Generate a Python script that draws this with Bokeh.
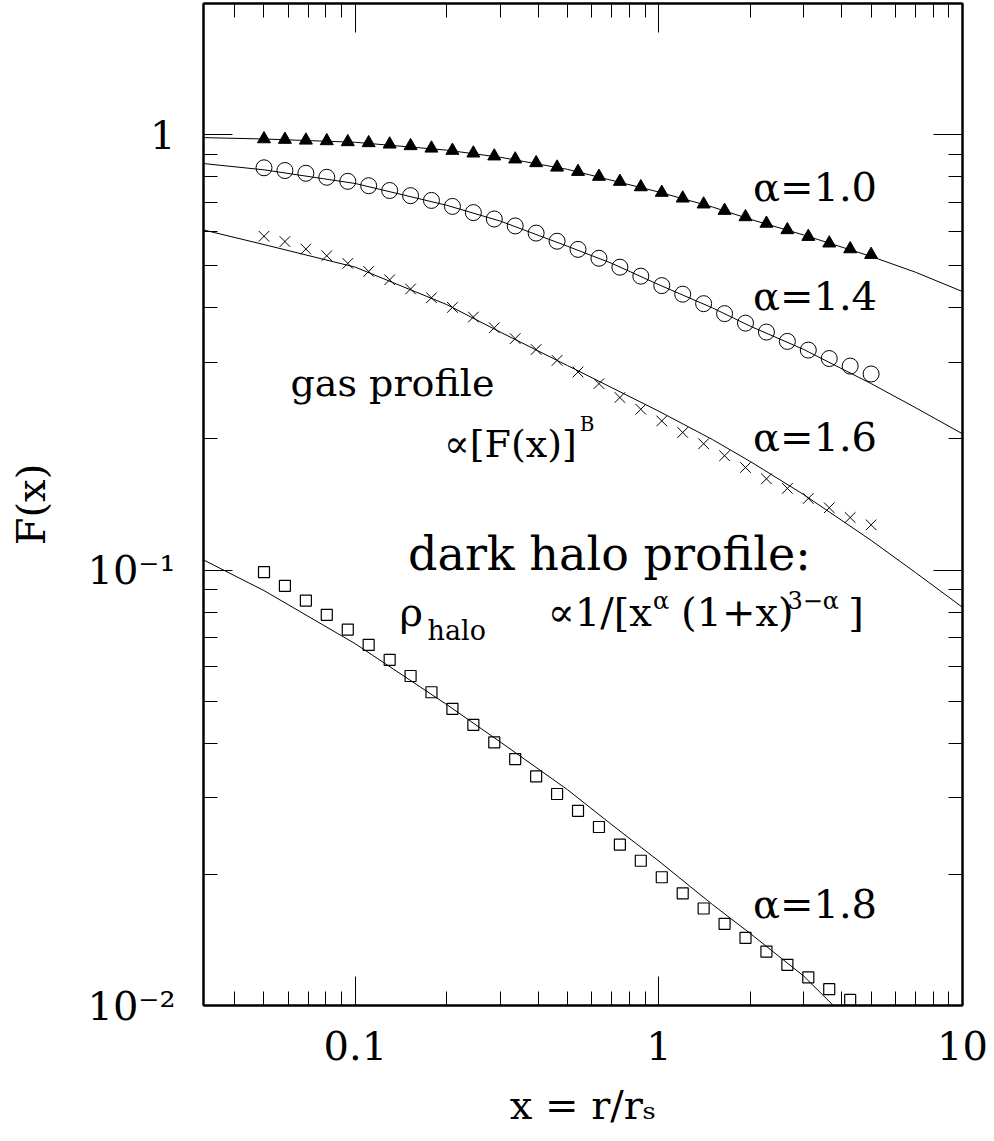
from bokeh.plotting import figure
from bokeh.models import Range1d, FixedTicker, LogAxis
from bokeh.core.properties import value
from bokeh.embed import file_html
from bokeh.resources import INLINE

FONT = "DejaVu Serif"

# ---- data ----
marker_x = [0.0500, 0.0586, 0.0687, 0.0805, 0.0944, 0.1106, 0.1297, 0.1520, 0.1781, 0.2088,
            0.2447, 0.2868, 0.3361, 0.3940, 0.4618, 0.5413, 0.6344, 0.7436, 0.8715, 1.0217,
            1.1975, 1.4036, 1.6451, 1.9282, 2.2601, 2.6490, 3.1048, 3.6391, 4.2658, 5.0000]

tri_y = [0.977, 0.974, 0.970, 0.967, 0.962, 0.957, 0.950, 0.942, 0.930, 0.919,
         0.906, 0.892, 0.878, 0.861, 0.841, 0.822, 0.801, 0.780, 0.758, 0.736,
         0.714, 0.692, 0.669, 0.647, 0.625, 0.604, 0.583, 0.563, 0.546, 0.530]
circ_y = [0.839, 0.827, 0.815, 0.798, 0.781, 0.763, 0.744, 0.724, 0.706, 0.684,
          0.662, 0.640, 0.617, 0.594, 0.569, 0.545, 0.520, 0.496, 0.473, 0.450,
          0.430, 0.409, 0.388, 0.369, 0.352, 0.335, 0.320, 0.306, 0.294, 0.282]
cross_y = [0.584, 0.568, 0.546, 0.527, 0.506, 0.485, 0.464, 0.442, 0.422, 0.401,
           0.381, 0.360, 0.340, 0.321, 0.303, 0.285, 0.268, 0.249, 0.234, 0.220,
           0.207, 0.195, 0.183, 0.172, 0.162, 0.154, 0.146, 0.139, 0.132, 0.127]
square_y = [0.0989, 0.0920, 0.0851, 0.0789, 0.0730, 0.0673, 0.0622, 0.0571, 0.0524, 0.0480,
            0.0441, 0.0402, 0.0368, 0.0336, 0.0306, 0.0280, 0.0257, 0.0234, 0.0215, 0.0197,
            0.0181, 0.0167, 0.0154, 0.0143, 0.0133, 0.0124, 0.0116, 0.0109, 0.0103]

line_x = [0.0316, 0.05, 0.1, 0.2, 0.3, 0.5, 0.7, 1.0, 1.5, 2.0, 3.0, 5.0, 7.0, 10.0]
line_a10 = [0.984, 0.977, 0.960, 0.921, 0.887, 0.832, 0.785, 0.738, 0.682, 0.639, 0.588, 0.525, 0.483, 0.436]
line_a14 = [0.858, 0.830, 0.772, 0.688, 0.633, 0.554, 0.506, 0.452, 0.400, 0.363, 0.321, 0.268, 0.236, 0.2055]
line_a16 = [0.604, 0.559, 0.496, 0.407, 0.352, 0.2948, 0.2622, 0.2315, 0.1994, 0.1775, 0.149, 0.117, 0.0987, 0.0821]
line_a18 = [0.1055, 0.0897, 0.0677, 0.0491, 0.0403, 0.0313, 0.0260, 0.02145, 0.01706, 0.01463, 0.01168, 0.0082]

x_major = [0.1, 1, 10]
x_minor = [0.04, 0.05, 0.06, 0.07, 0.08, 0.09, 0.2, 0.3, 0.4, 0.5, 0.6, 0.7, 0.8, 0.9,
           2, 3, 4, 5, 6, 7, 8, 9]
x_labels = {0.1: "0.1", 1: "1", 10: "10"}
y_major = [0.01, 0.1, 1]
y_minor = [0.02, 0.03, 0.04, 0.05, 0.06, 0.07, 0.08, 0.09, 0.2, 0.3, 0.4, 0.5, 0.6, 0.7,
           0.8, 0.9]
y_labels = {0.01: "10⁻²", 0.1: "10⁻¹", 1: "1"}

curve_labels = ["α=1.0", "α=1.4", "α=1.6", "α=1.8"]
curve_label_x = [2.04, 2.04, 2.04, 2.04]
curve_label_y = [0.7596, 0.4270, 0.2025, 0.01706]

# free text pieces: text, x, y, size, align
notes = [
    ("gas profile", 0.1325, 0.2688, "38px", "center"),
    ("∝[F(x)]", 0.5363, 0.1947, "38px", "right"),
    ("B", 0.5485, 0.2170, "20px", "left"),
    ("dark halo profile:", 0.6865, 0.1088, "46px", "center"),
    ("ρ", 0.1397, 0.0799, "40px", "left"),
    ("halo", 0.1729, 0.0726, "27px", "left"),
    ("∝1/[x", 0.9482, 0.0799, "40px", "right"),
    ("α", 0.9554, 0.0847, "24px", "left"),
    ("(1+x)", 1.182, 0.0799, "40px", "left"),
    ("3−α", 2.65, 0.0847, "24px", "left"),
    ("]", 4.20, 0.0799, "40px", "left"),
]

p = figure(width=994, height=1141, x_axis_type="log", y_axis_type="log",
           x_range=Range1d(0.0316, 10), y_range=Range1d(0.01, 2),
           output_backend="svg", toolbar_location=None,
           min_border_left=203, min_border_right=32, min_border_top=3,
           min_border_bottom=136)
p.background_fill_color = "white"
p.border_fill_color = "white"
p.outline_line_color = "black"
p.outline_line_width = 2
p.xgrid.visible = False
p.ygrid.visible = False


def style_axis(ax, major, minor, labels, show_labels):
    ax.ticker = FixedTicker(ticks=major, minor_ticks=minor)
    ax.axis_line_color = "black"
    ax.axis_line_width = 2
    ax.major_tick_in = 29
    ax.major_tick_out = 0
    ax.minor_tick_in = 14
    ax.minor_tick_out = 0
    ax.major_tick_line_color = "black"
    ax.minor_tick_line_color = "black"
    ax.major_tick_line_width = 1
    ax.minor_tick_line_width = 1
    if show_labels:
        ax.major_label_overrides = labels
        ax.major_label_text_font = FONT
        ax.major_label_text_font_size = "40px"
        ax.major_label_text_color = "black"
        ax.axis_label_text_font = FONT
        ax.axis_label_text_font_size = "40px"
        ax.axis_label_text_font_style = "normal"
        ax.axis_label_text_color = "black"
    else:
        ax.major_label_text_font_size = "1px"
        ax.major_label_text_alpha = 0
        ax.major_label_standoff = 0


xa = p.xaxis[0]
style_axis(xa, x_major, x_minor, x_labels, True)
xa.axis_label = "x = r/rₛ"
xa.major_label_standoff = 25
xa.axis_label_standoff = 19

ya = p.yaxis[0]
style_axis(ya, y_major, y_minor, y_labels, True)
ya.axis_label = "F(x)"
ya.major_label_standoff = 28
ya.axis_label_standoff = 30

top = LogAxis()
style_axis(top, x_major, x_minor, {}, False)
p.add_layout(top, "above")
right = LogAxis()
style_axis(right, y_major, y_minor, {}, False)
p.add_layout(right, "right")

# curves
for ys in (line_a10, line_a14, line_a16):
    p.line(line_x, ys, line_color="black", line_width=1)
p.line(line_x[:len(line_a18)], line_a18, line_color="black", line_width=1)

# markers
p.scatter(marker_x, tri_y, marker="triangle", size=13, fill_color="black", line_color="black")
p.scatter(marker_x, circ_y, marker="circle", size=16, fill_color=None, line_color="black", line_width=1)
p.scatter(marker_x, cross_y, marker="x", size=15, line_color="black", line_width=1)
p.scatter(marker_x[:len(square_y)], square_y, marker="square", size=11, fill_color=None,
          line_color="black", line_width=1.2)

# labels
p.text(curve_label_x, curve_label_y, text=curve_labels, text_font=value(FONT),
       text_font_size="40px", text_color="black", text_align="left",
       text_baseline="alphabetic")
for txt, tx, ty, size, align in notes:
    p.text([tx], [ty], text=[txt], text_font=value(FONT), text_font_size=size,
           text_color="black", text_align=align, text_baseline="alphabetic")

open("out.html", "w").write(file_html(p, INLINE))
